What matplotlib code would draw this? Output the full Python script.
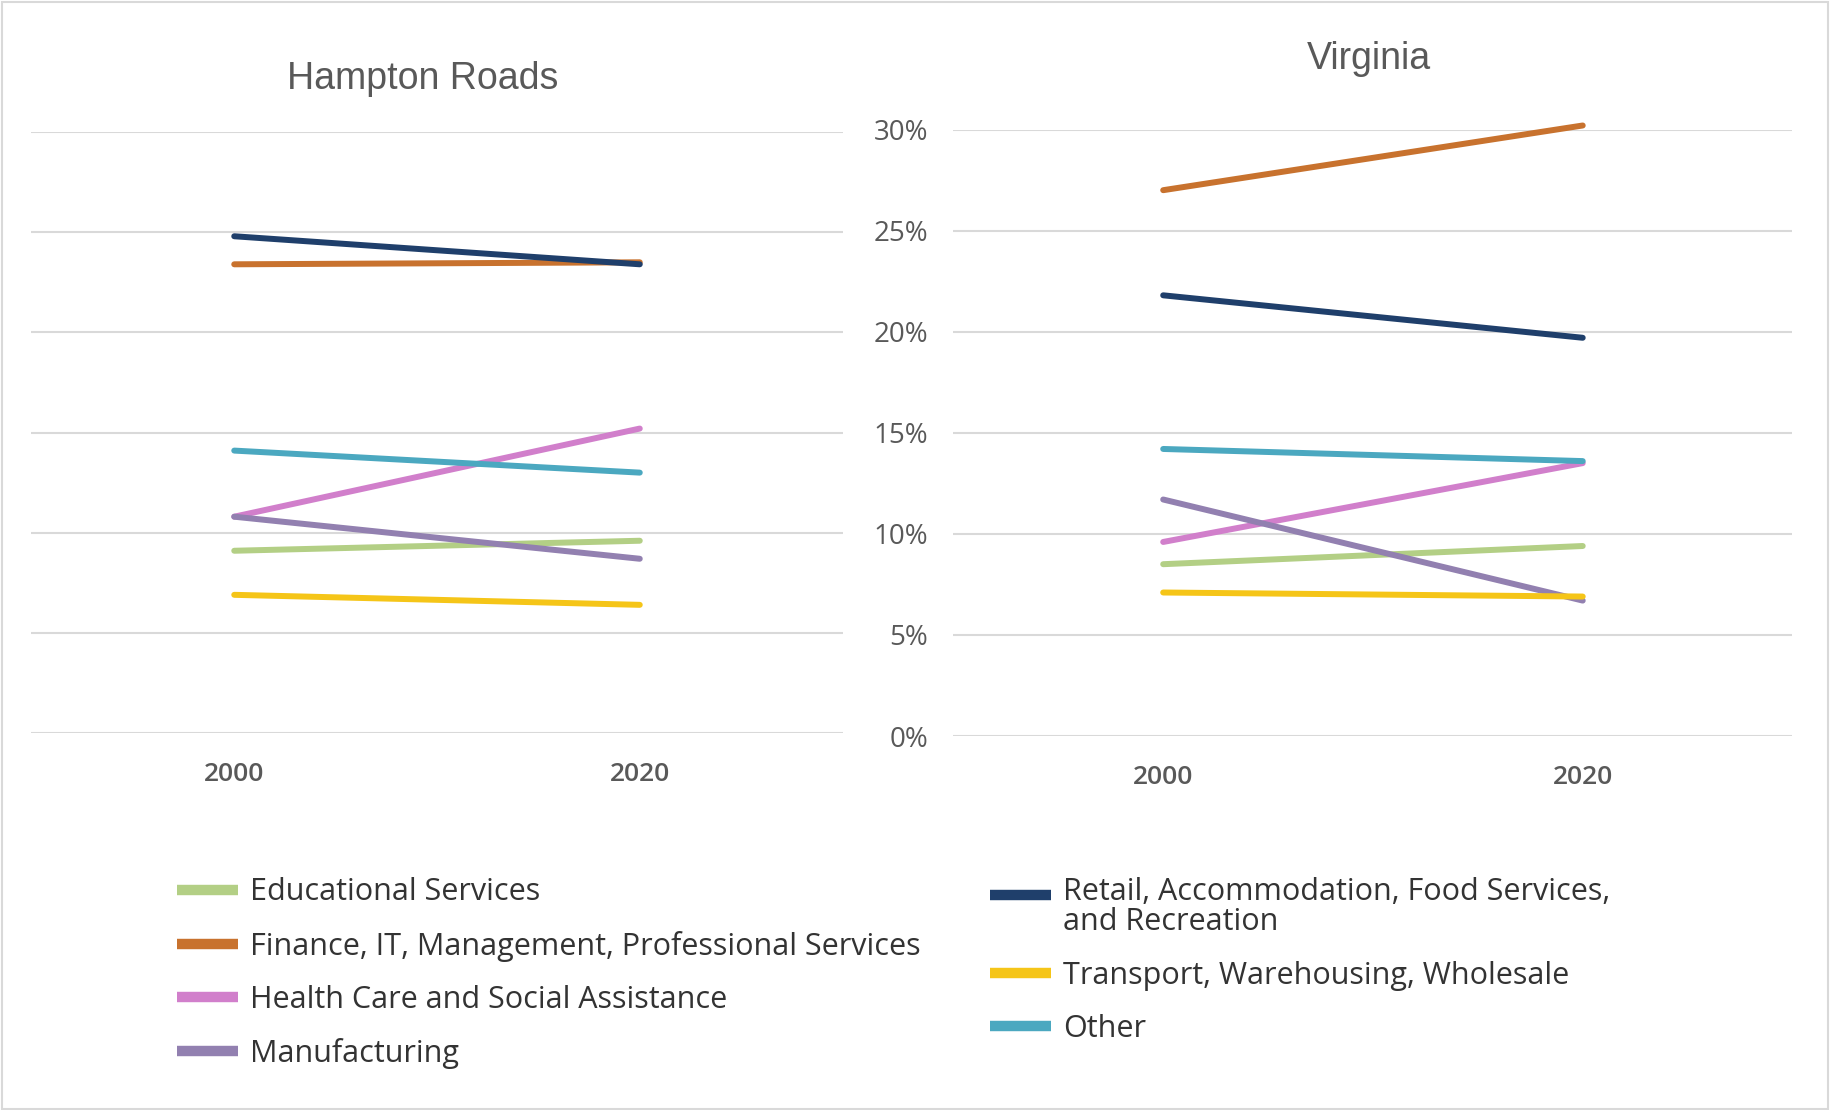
import matplotlib
matplotlib.use("Agg")
import matplotlib.pyplot as plt
from matplotlib.ticker import FuncFormatter
from matplotlib.patches import Rectangle
from matplotlib.legend_handler import HandlerLine2D

plt.rcParams['font.family'] = ['Open Sans', 'DejaVu Sans']

years = ['2000', '2020']
industries = ['Educational Services',
              'Finance, IT, Management, Professional Services',
              'Health Care and Social Assistance',
              'Manufacturing',
              'Retail, Accommodation, Food Services,\nand Recreation',
              'Transport, Warehousing, Wholesale',
              'Other']
colors = ['#B3CF85', '#C8722E', '#D17FCB', '#9280B0', '#1F3F6B', '#F5C518', '#4BA8C0']

# share of employment (%)
hr_2000 = [9.1, 23.4, 10.8, 10.8, 24.8, 6.9, 14.1]
hr_2020 = [9.6, 23.5, 15.2, 8.7, 23.4, 6.4, 13.0]
va_2000 = [8.5, 27.0, 9.6, 11.7, 21.8, 7.1, 14.2]
va_2020 = [9.4, 30.2, 13.5, 6.7, 19.7, 6.9, 13.6]


class HandlerFirstLine(HandlerLine2D):
    # put the legend swatch next to the first line of a wrapped label
    def create_artists(self, legend, orig_handle, xdescent, ydescent,
                       width, height, fontsize, trans):
        return super().create_artists(legend, orig_handle, xdescent,
                                      ydescent - 0.9 * fontsize, width, height,
                                      fontsize, trans)


fig = plt.figure(figsize=(18.3, 11.1), dpi=100)
fig.patches.append(Rectangle((0.001, 0.001), 0.998, 0.997, transform=fig.transFigure,
                             fill=False, edgecolor='#D9D9D9', linewidth=1.5))

ax1 = fig.add_axes([0.0172, 0.3396, 0.4432, 0.5414])
ax2 = fig.add_axes([0.5210, 0.3369, 0.4585, 0.5464])

grey = '#595959'
handles = []
for ax, v0, v1 in [(ax1, hr_2000, hr_2020), (ax2, va_2000, va_2020)]:
    for i, name in enumerate(industries):
        ln, = ax.plot([0, 1], [v0[i], v1[i]], color=colors[i], linewidth=4.3,
                      solid_capstyle='round', label=name, zorder=3, clip_on=False)
        if ax is ax1:
            handles.append(ln)
    ax.set_xlim(-0.5, 1.5)
    ax.set_ylim(0, 30)
    ax.set_yticks([0, 5, 10, 15, 20, 25, 30])
    ax.yaxis.set_major_formatter(FuncFormatter(lambda v, p: f'{v:.0f}%'))
    ax.grid(axis='y', color='#D9D9D9', linewidth=1.5, zorder=0)
    ax.set_xticks([0, 1])
    ax.set_xticklabels(years, fontsize=19, fontweight='semibold', color=grey)
    for s in ax.spines.values():
        s.set_visible(False)
    ax.tick_params(axis='both', length=0, labelsize=20, labelcolor=grey)
    ax.tick_params(axis='x', pad=21, labelsize=19)
    ax.tick_params(axis='y', pad=18)

ax1.set_yticklabels([])

fig.text(0.2308, 0.9285, 'Hampton Roads', ha='center', va='center', fontsize=27,
         color=grey, family=['Liberation Sans', 'DejaVu Sans'])
fig.text(0.7481, 0.9465, 'Virginia', ha='center', va='center', fontsize=27,
         color=grey, family=['Liberation Sans', 'DejaVu Sans'])

leg_kw = dict(frameon=False, fontsize=22, handlelength=2.0, handletextpad=0.4,
              labelspacing=0.76, borderaxespad=0, borderpad=0, loc='upper left',
              labelcolor='#333333')
leg1 = fig.legend(handles[:4], industries[:4], bbox_to_anchor=(0.0967, 0.2095), **leg_kw)
leg2 = fig.legend(handles[4:], industries[4:], bbox_to_anchor=(0.5408, 0.2095),
                  handler_map={handles[4]: HandlerFirstLine()}, **leg_kw)
leg2.get_texts()[0].set_linespacing(1.0)
for leg in (leg1, leg2):
    for h in leg.legend_handles:
        h.set_linewidth(7.5)
        h.set_solid_capstyle('butt')

fig.savefig('out.png', dpi=100)
